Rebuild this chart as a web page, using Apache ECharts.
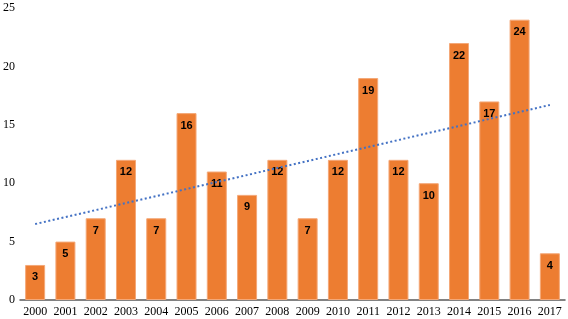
<!DOCTYPE html>
<html>
<head>
<meta charset="utf-8">
<script src="https://cdn.jsdelivr.net/npm/echarts@6/dist/echarts.min.js"></script>
<style>
  html, body { margin: 0; padding: 0; background: #fff; }
  #chart { width: 568px; height: 319px; }
</style>
</head>
<body>
<div id="chart"></div>
<script>
const years = ['2000', '2001', '2002', '2003', '2004', '2005', '2006', '2007', '2008',
    '2009', '2010', '2011', '2012', '2013', '2014', '2015', '2016', '2017'];
const counts = [3, 5, 7, 12, 7, 16, 11, 9, 12, 7, 12, 19, 12, 10, 22, 17, 24, 4];
// linear trend (start at 2000, end at 2017)
const trendStart = 6.5;
const trendEnd = 16.7;

const serif = '"Liberation Serif", "Times New Roman", serif';

const chart = echarts.init(document.getElementById('chart'));

chart.setOption({
    animation: false,
    grid: { left: 17, right: 3, top: 8, bottom: 19 },
    xAxis: {
        type: 'category',
        data: years,
        axisLine: { lineStyle: { color: '#595959', width: 1.5 } },
        axisTick: { show: false },
        axisLabel: {
            interval: 0,
            color: '#000',
            fontFamily: serif,
            fontSize: 12,
            margin: 6
        }
    },
    yAxis: {
        type: 'value',
        min: 0,
        max: 25,
        interval: 5,
        splitLine: { show: false },
        axisLine: { show: false },
        axisTick: { show: false },
        axisLabel: {
            color: '#000',
            fontFamily: serif,
            fontSize: 12,
            margin: 5
        }
    },
    series: [{
        type: 'bar',
        data: counts,
        barWidth: 20,
        itemStyle: {
            color: '#ED7D31',
            borderColor: '#F4A878',
            borderWidth: 1
        },
        label: {
            show: true,
            position: 'insideTop',
            distance: 7,
            color: '#000',
            fontFamily: '"Liberation Sans", Arial, sans-serif',
            fontWeight: 'bold',
            fontSize: 11
        },
        markLine: {
            silent: true,
            symbol: 'none',
            label: { show: false },
            lineStyle: { color: '#4472C4', width: 2, type: [2, 2.5] },
            data: [[
                { coord: [years[0], trendStart] },
                { coord: [years[years.length - 1], trendEnd] }
            ]]
        }
    }]
});
</script>
</body>
</html>
